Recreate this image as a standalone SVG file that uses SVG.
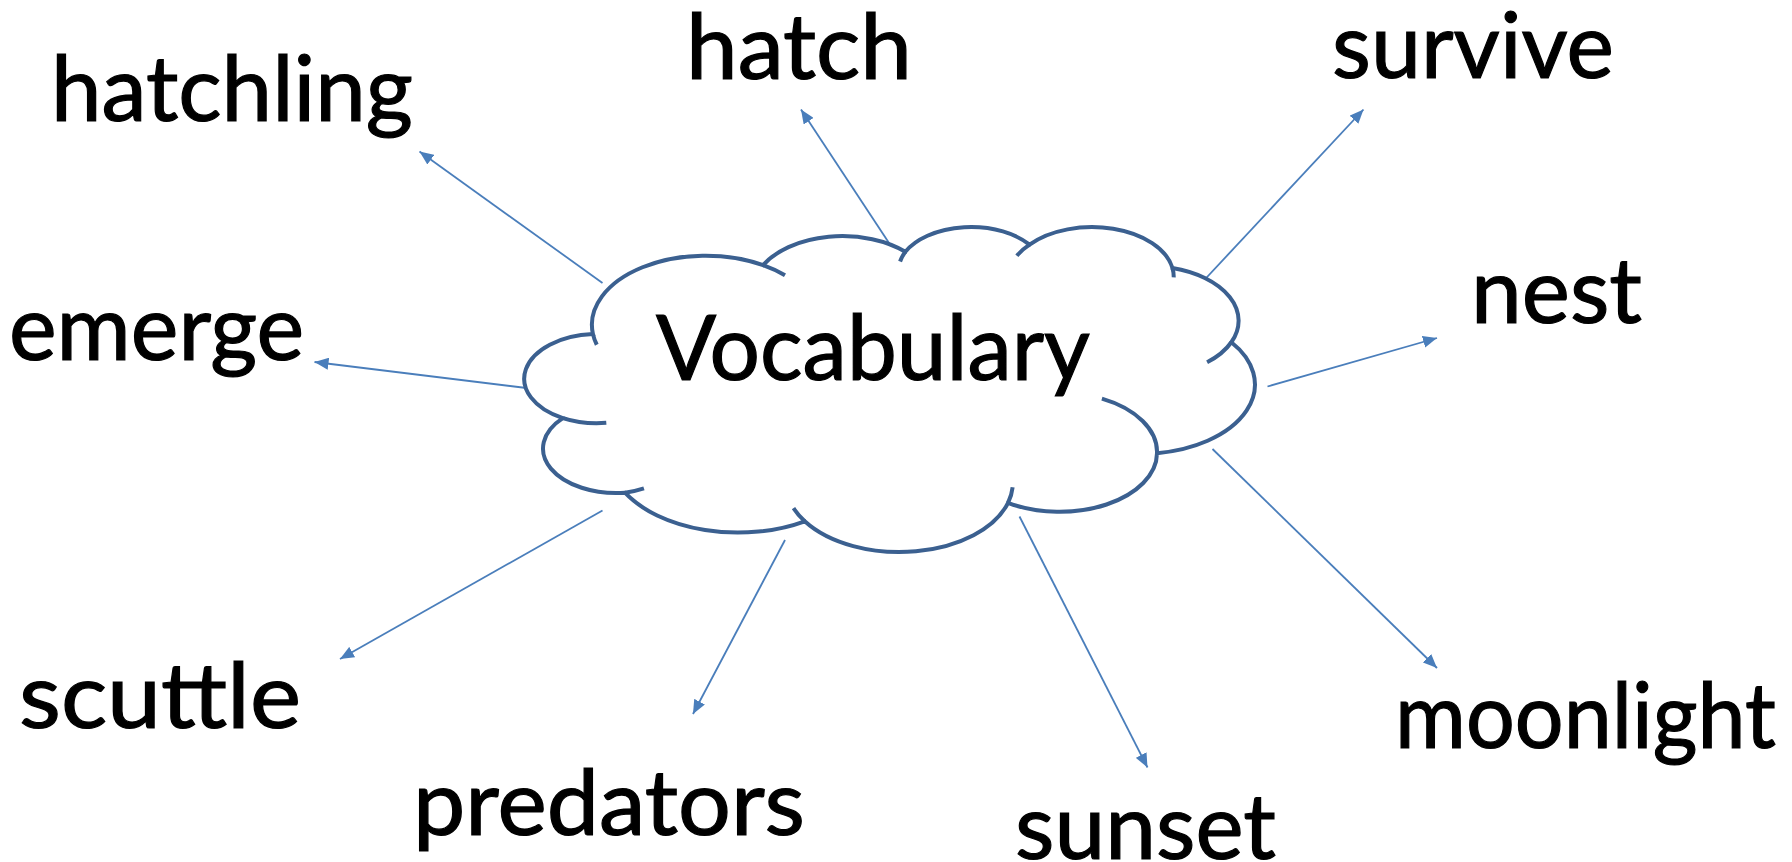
<svg xmlns="http://www.w3.org/2000/svg" width="1792" height="862" viewBox="0 0 1792 862">
  <defs>
    <style>
      .word { font-family: "Lato", "Noto Sans", "Liberation Sans", sans-serif; font-size: 92px; fill: #000; stroke: #000; stroke-width: 1.2; }
      .cloud { fill: #fff; stroke: #3B6090; stroke-width: 4; }
      .cloud-inner { fill: none; stroke: #3B6090; stroke-width: 4; }
      .link { stroke: #4A7EBB; stroke-width: 1.8; fill: none; marker-end: url(#head); }
    </style>
    <marker id="head" viewBox="0 0 14 12" refX="14" refY="6" markerWidth="14" markerHeight="12" markerUnits="userSpaceOnUse" orient="auto">
      <path d="M0,0 L14,6 L0,12 Z" fill="#4A7EBB"/>
    </marker>
  </defs>

  <rect width="1792" height="862" fill="#fff"/>

  <!-- arrows radiating from the cloud -->
  <g id="connectors">
    <line class="link" x1="602.5" y1="283" x2="419.5" y2="151.5"/>
    <line class="link" x1="890" y1="244.5" x2="801" y2="109.5"/>
    <line class="link" x1="1201.5" y1="283" x2="1363.5" y2="109.5"/>
    <line class="link" x1="1267.5" y1="386.5" x2="1437" y2="338"/>
    <line class="link" x1="526.5" y1="388" x2="314.5" y2="362"/>
    <line class="link" x1="602.5" y1="510.5" x2="340" y2="659"/>
    <line class="link" x1="785" y1="540" x2="693" y2="714"/>
    <line class="link" x1="1019.5" y1="516.5" x2="1147.5" y2="767.5"/>
    <line class="link" x1="1212.5" y1="449" x2="1437" y2="668"/>
  </g>

  <!-- central cloud node: eleven elliptical bumps plus the short inner strokes at the joins -->
  <g id="vocabulary">
    <path class="cloud" d="M 592.96 334.07
      A 113.69 69.11 0 0 1 763.09 265.12
      A 89.79 54.65 0 0 1 905.37 251.81
      A 73.49 44.71 0 0 1 1029.56 244.65
      A 81.77 49.60 0 0 1 1172.42 267.93
      A 89.79 54.69 0 0 1 1231.34 342.26
      A 114.06 69.34 0 0 1 1157.03 453.14
      A 97.40 59.16 0 0 1 1008.04 502.84
      A 113.68 69.30 0 0 1 804.74 521.27
      A 129.97 79.28 0 0 1 624.99 492.74
      A 73.40 44.50 0 0 1 562.85 418.12
      A 73.15 44.71 0 0 1 592.96 334.07 Z"/>
    <path class="cloud-inner" d="M 606.3 422.85 A 73.15 44.71 0 0 1 562.85 418.12
      M 643.94 488.45 A 73.40 44.50 0 0 1 624.99 492.74
      M 804.74 521.27 A 113.68 69.30 0 0 1 793.5 508.2
      M 1012.63 487.33 A 113.68 69.30 0 0 1 1008.04 502.84
      M 1101.9 398.62 A 97.40 59.16 0 0 1 1157.03 453.14
      M 1231.34 342.26 A 89.79 54.69 0 0 1 1207.1 362.3
      M 1172.42 267.93 A 81.77 49.60 0 0 1 1173.7 277.4
      M 1016.86 255.72 A 81.77 49.60 0 0 1 1029.56 244.65
      M 900.07 261.5 A 73.49 44.71 0 0 1 905.37 251.81
      M 763.09 265.12 A 113.69 69.11 0 0 1 784.98 275.27
      M 596.78 344.74 A 113.69 69.11 0 0 1 592.96 334.07"/>
    <text class="word" x="656" y="380" textLength="434" lengthAdjust="spacingAndGlyphs">Vocabulary</text>
  </g>

  <!-- vocabulary words -->
  <g id="hatchling"><text class="word" x="51" y="121" textLength="362" lengthAdjust="spacingAndGlyphs">hatchling</text></g>
  <g id="hatch"><text class="word" x="686" y="79" textLength="226" lengthAdjust="spacingAndGlyphs">hatch</text></g>
  <g id="survive"><text class="word" x="1332" y="78" textLength="282" lengthAdjust="spacingAndGlyphs">survive</text></g>
  <g id="nest"><text class="word" x="1471" y="323" textLength="171" lengthAdjust="spacingAndGlyphs">nest</text></g>
  <g id="emerge"><text class="word" x="9" y="360" textLength="295" lengthAdjust="spacingAndGlyphs">emerge</text></g>
  <g id="scuttle"><text class="word" x="19" y="728" textLength="282" lengthAdjust="spacingAndGlyphs">scuttle</text></g>
  <g id="predators"><text class="word" x="413" y="835" textLength="392" lengthAdjust="spacingAndGlyphs">predators</text></g>
  <g id="sunset"><text class="word" x="1015" y="859" textLength="261" lengthAdjust="spacingAndGlyphs">sunset</text></g>
  <g id="moonlight"><text class="word" x="1395" y="748" textLength="381" lengthAdjust="spacingAndGlyphs">moonlight</text></g>
</svg>
